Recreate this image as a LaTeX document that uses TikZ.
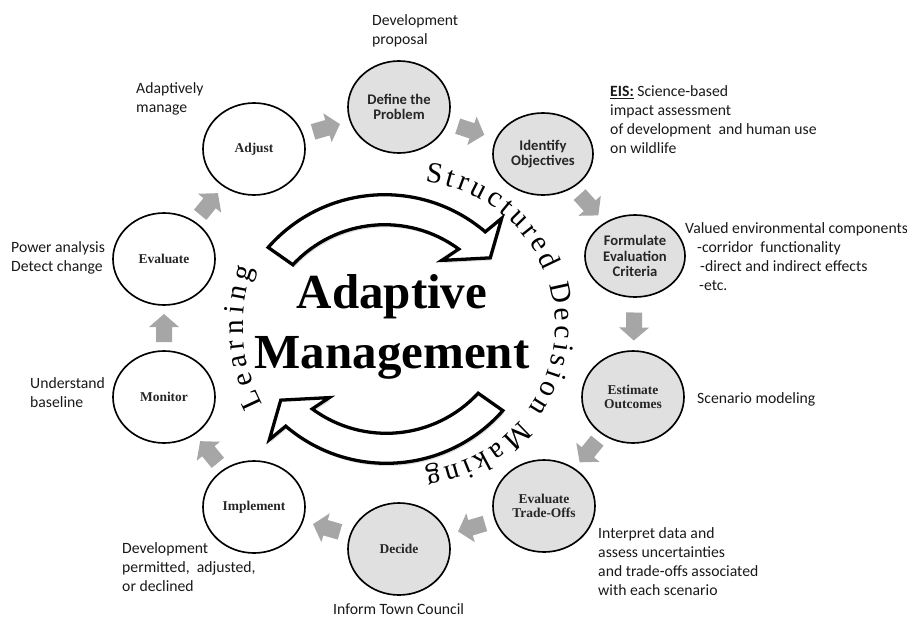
\documentclass[tikz,border=0pt]{standalone}
\usepackage{fontspec}
\setmainfont{Liberation Serif}
\newfontfamily\calibri{Carlito}
\usepackage{tikz}
\usetikzlibrary{calc}
\usetikzlibrary{shapes}
\usetikzlibrary{decorations.text}
\usetikzlibrary{shadows}

\newcommand\krivulja{\fontsize{25}{28}\selectfont}

\begin{document}
\begin{tikzpicture}[x=0.3mm, y=-0.3mm,
  krog/.style={ellipse, draw, line width=1.4pt, minimum width=30.6mm, minimum height=27.6mm,
    inner sep=0pt, align=center, text=black!85},
  siv/.style={krog, fill=black!12},
  serif/.style={font=\fontsize{11.5}{12}\selectfont\bfseries},
  sans/.style={font=\calibri\fontsize{12.5}{13}\selectfont\bfseries},
  opomba/.style={anchor=base west, align=left, inner sep=0pt, text=black!90,
    font=\calibri\fontsize{13.4}{16}\selectfont},
  puscica/.style={fill=black!35},
  velika/.style={draw, line width=2.8pt, fill=white, line join=miter,
    drop shadow={shadow xshift=0.4mm, shadow yshift=-0.8mm, opacity=0.25}},
]
\useasboundingbox (0,0) rectangle (907,618);

% curved arrows in the middle
\coordinate (s_0) at (384.6,349.7);
\coordinate (s_1) at (386.4,308.3);
\draw[velika] ($(s_0)+(-138.7:155)$) arc[start angle=-138.7, end angle=-49.5, radius=155]
  -- ($(s_0)+(-48.3:176)$) -- ($(s_0)+(-41:140)$) -- ($(s_0)+(-57.4:106)$)
  -- ($(s_0)+(-53.6:125)$) arc[start angle=-53.6, end angle=-137.2, radius=125] -- cycle;
\draw[velika] ($(s_1)+(41.3:155)$) arc[start angle=41.3, end angle=130.5, radius=155]
  -- ($(s_1)+(131.7:176)$) -- ($(s_1)+(139:140)$) -- ($(s_1)+(122.6:106)$)
  -- ($(s_1)+(126.4:125)$) arc[start angle=126.4, end angle=42.8, radius=125] -- cycle;

% text round the cycle
\path[decorate, decoration={text along path, text align={fit to path},
    text={|\krivulja|Structured Decision Making}}]
  (410,326) ++(-84:145) arc[start angle=-84, end angle=84, radius=145];
\path[decorate, decoration={text along path, text align={fit to path},
    text={|\krivulja|Learning}}]
  (410,326) ++(152:167) arc[start angle=152, end angle=200, radius=167];

\node[font=\fontsize{41.8}{51}\selectfont\bfseries, align=center] (naslov) at (392,327)
  {Adaptive\\Management};

% steps
\node[siv, sans] (k_0) at (399,107) {Define the\\Problem};
\node[siv, sans, minimum width=30mm, minimum height=24.6mm] (k_1) at (543,154) {Identify\\Objectives};
\node[siv, sans, minimum width=30mm, minimum height=24.6mm] (k_2) at (635,256) {Formulate\\Evaluation\\Criteria};
\node[siv, serif] (k_3) at (633,397) {Estimate\\Outcomes};
\node[siv, serif] (k_4) at (544,506) {Evaluate\\Trade-Offs};
\node[siv, serif] (k_5) at (399,549) {Decide};
\node[krog, serif] (k_6) at (254,507) {Implement};
\node[krog, serif] (k_7) at (164,397) {Monitor};
\node[krog, serif] (k_8) at (164,259) {Evaluate};
\node[krog, serif] (k_9) at (254,149) {Adjust};

% block arrows between the steps
\foreach \i in {0,...,9} {
  \pgfmathtruncatemacro{\j}{mod(\i+1, 10)};
  \pgfmathanglebetweenpoints{\pgfpointanchor{k_\i}{center}}{\pgfpointanchor{k_\j}{center}}
  \let\kot\pgfmathresult
  \coordinate (p_\i) at ($(k_\i)!0.5!(k_\j)$);
  \fill[puscica, shift={(p_\i)}, rotate=\kot]
    (-14,-8) -- (1,-8) -- (1,-15) -- (14,0) -- (1,15) -- (1,8) -- (-14,8) -- cycle;
}

% notes
\node[opomba] (o_0) at (372,44) {Development\\proposal};
\node[opomba] (o_1) at (610,153) {\textbf{\underline{EIS:}} Science-based\\impact assessment\\of development\ \ and human use\\on wildlife};
\node[opomba] (o_2) at (685,290) {Valued environmental components\\\hspace*{3.6mm}-corridor\ \ functionality\\\hspace*{4.5mm}-direct and indirect effects\\\hspace*{4.2mm}-etc.};
\node[opomba] (o_3) at (697,403) {Scenario modeling};
\node[opomba] (o_4) at (598,595) {Interpret data and\\assess uncertainties\\and trade-offs associated\\with each scenario};
\node[opomba] (o_5) at (333,614) {Inform Town Council};
\node[opomba] (o_6) at (122,591) {Development\\permitted,\ \ adjusted,\\or declined};
\node[opomba] (o_7) at (30,407) {Understand\\baseline};
\node[opomba] (o_8) at (11,271) {Power analysis\\Detect change};
\node[opomba] (o_9) at (136,112) {Adaptively\\manage};
\end{tikzpicture}
\end{document}
